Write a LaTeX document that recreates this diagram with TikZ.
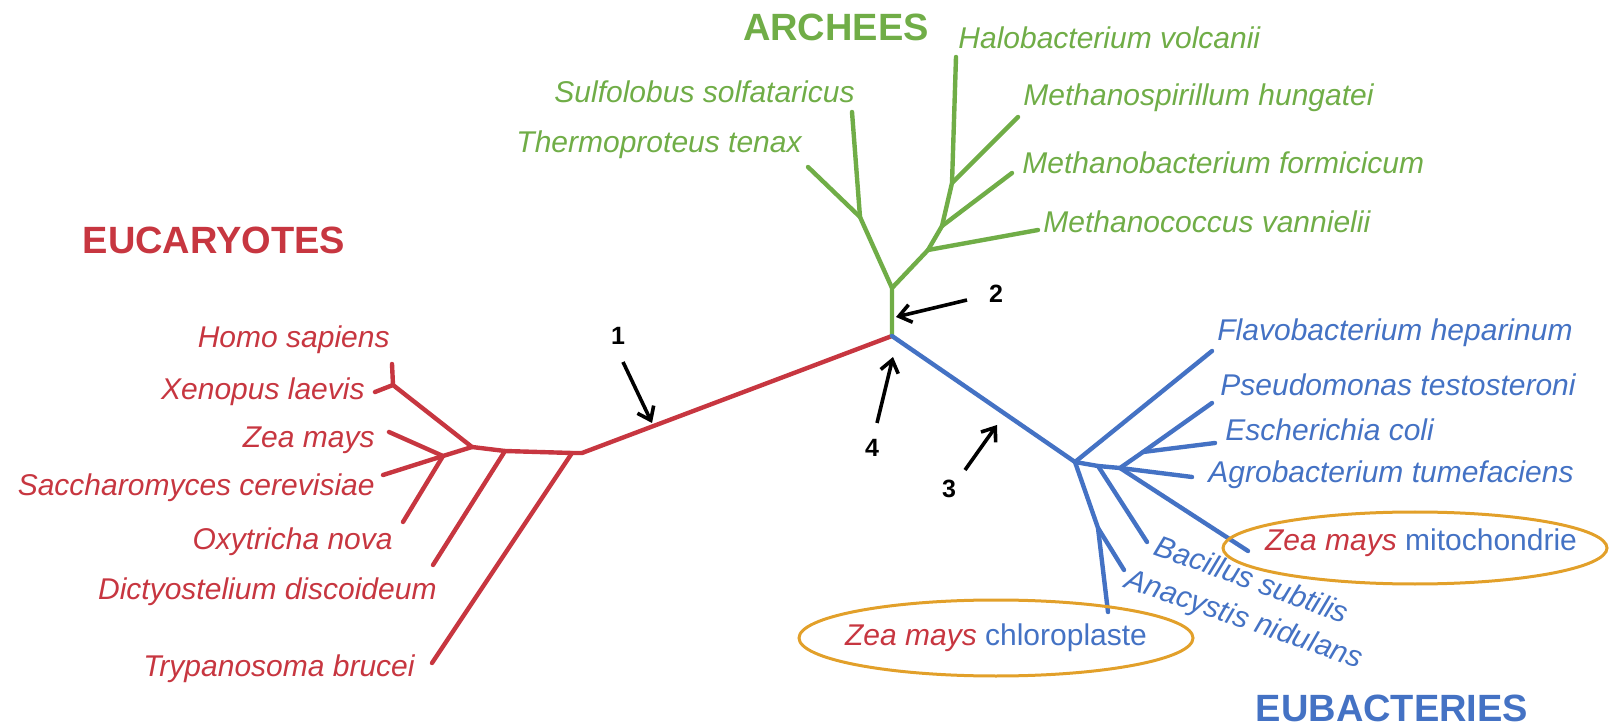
\documentclass[tikz,border=0pt]{standalone}
\usepackage{fontspec}
\setmainfont{Liberation Sans}
\usetikzlibrary{arrows.meta}

\definecolor{eured}{RGB}{199,54,64}
\definecolor{argreen}{RGB}{112,173,71}
\definecolor{ebblue}{RGB}{68,114,196}
\definecolor{ringgold}{RGB}{226,160,42}

\tikzset{
  branch/.style={line width=2.2pt, line cap=round, line join=round},
  sp/.style={inner sep=0pt, font=\fontsize{15}{18}\selectfont\itshape},
  spup/.style={inner sep=0pt, font=\fontsize{15}{18}\selectfont},
  grp/.style={inner sep=0pt, font=\fontsize{19}{22}\selectfont\bfseries},
  num/.style={inner sep=0pt, font=\fontsize{12.5}{15}\selectfont\bfseries},
  pointer/.style={line width=1.8pt, -{Straight Barb[length=6pt,width=9pt]}},
  ring/.style={draw=ringgold, line width=1.5pt}
}

\begin{document}
\begin{tikzpicture}[x=0.5pt, y=-0.5pt]
        \useasboundingbox (0,0) rectangle (1621,726);

        % ==========================================
        % ROOT
        % ==========================================
        \coordinate (root) at (892,336);

        % ==========================================
        % EUCARYOTES (red)
        % ==========================================
        \coordinate (ebend)  at (582,453);
        \coordinate (etry)   at (572,453);
        \coordinate (edic)   at (505,451);
        \coordinate (ecrown) at (472,447);
        \coordinate (ehx)    at (393,385);
        \coordinate (ezs)    at (443,456);
        \coordinate (thomo)  at (392,364);
        \coordinate (txeno)  at (375,392);
        \coordinate (tzea)   at (389,432);
        \coordinate (tsacc)  at (383,475);
        \coordinate (toxy)   at (403,522);
        \coordinate (tdic)   at (433,565);
        \coordinate (ttry)   at (432,663);

        \draw[branch, eured] (root) -- (ebend) -- (etry) -- (edic) -- (ecrown) -- (ehx) -- (thomo);
        \draw[branch, eured] (ehx) -- (txeno);
        \draw[branch, eured] (ecrown) -- (ezs) -- (tzea);
        \draw[branch, eured] (ezs) -- (tsacc);
        \draw[branch, eured] (ezs) -- (toxy);
        \draw[branch, eured] (edic) -- (tdic);
        \draw[branch, eured] (etry) -- (ttry);

        \node[grp, eured] (eucar) at (214,240) {EUCARYOTES};
        \node[sp, eured, anchor=east] (homo)  at (390,340) {Homo sapiens};
        \node[sp, eured, anchor=east] (xeno)  at (365,392) {Xenopus laevis};
        \node[sp, eured, anchor=east] (zea)   at (375,440) {Zea mays};
        \node[sp, eured, anchor=east] (sacc)  at (375,488) {Saccharomyces cerevisiae};
        \node[sp, eured, anchor=east] (oxy)   at (393,542) {Oxytricha nova};
        \node[sp, eured, anchor=east] (dic)   at (437,592) {Dictyostelium discoideum};
        \node[sp, eured, anchor=east] (try)   at (415,669) {Trypanosoma brucei};

        % ==========================================
        % ARCHEES (green)
        % ==========================================
        \coordinate (ga) at (892,288);
        \coordinate (gb) at (860,217);
        \coordinate (gc) at (928,250);
        \coordinate (gd) at (942,226);
        \coordinate (ge) at (952,183);
        \coordinate (tthermo) at (808,167);
        \coordinate (tsulfo)  at (852,112);
        \coordinate (thalo)   at (956,57);
        \coordinate (tspir)   at (1018,117);
        \coordinate (tmbac)   at (1012,173);
        \coordinate (tmcoc)   at (1038,230);

        \draw[branch, argreen] (root) -- (ga) -- (gb) -- (tthermo);
        \draw[branch, argreen] (gb) -- (tsulfo);
        \draw[branch, argreen] (ga) -- (gc) -- (gd) -- (ge) -- (thalo);
        \draw[branch, argreen] (gc) -- (tmcoc);
        \draw[branch, argreen] (gd) -- (tmbac);
        \draw[branch, argreen] (ge) -- (tspir);

        \node[grp, argreen] (arch) at (836,27) {ARCHEES};
        \node[sp, argreen, anchor=east] (sulfo)  at (855,92)  {Sulfolobus solfataricus};
        \node[sp, argreen, anchor=east] (thermo) at (802,145) {Thermoproteus tenax};
        \node[sp, argreen, anchor=west] (halo)   at (958,38)  {Halobacterium volcanii};
        \node[sp, argreen, anchor=west] (spir)   at (1023,98) {Methanospirillum hungatei};
        \node[sp, argreen, anchor=west] (mbac)   at (1022,163) {Methanobacterium formicicum};
        \node[sp, argreen, anchor=west] (mcoc)   at (1043,222) {Methanococcus vannielii};

        % ==========================================
        % EUBACTERIES (blue)
        % ==========================================
        \coordinate (bf)   at (1075,462);
        \coordinate (bbac) at (1098,466);
        \coordinate (bg)   at (1120,468);
        \coordinate (besc) at (1143,452);
        \coordinate (bh)   at (1098,528);
        \coordinate (tflavo)  at (1212,351);
        \coordinate (tpseu)   at (1212,403);
        \coordinate (tesch)   at (1215,443);
        \coordinate (tagro)   at (1192,477);
        \coordinate (tmito)   at (1248,551);
        \coordinate (tbacil)  at (1147,542);
        \coordinate (tanac)   at (1124,570);
        \coordinate (tchloro) at (1108,612);

        \draw[branch, ebblue] (root) -- (bf) -- (bbac) -- (bg) -- (besc) -- (tpseu);
        \draw[branch, ebblue] (bf) -- (tflavo);
        \draw[branch, ebblue] (besc) -- (tesch);
        \draw[branch, ebblue] (bg) -- (tagro);
        \draw[branch, ebblue] (bg) -- (tmito);
        \draw[branch, ebblue] (bbac) -- (tbacil);
        \draw[branch, ebblue] (bf) -- (bh) -- (tchloro);
        \draw[branch, ebblue] (bh) -- (tanac);

        \node[grp, ebblue] (eubac) at (1392,708) {EUBACTERIES};
        \node[sp, ebblue, anchor=west] (flavo) at (1217,333) {Flavobacterium heparinum};
        \node[sp, ebblue, anchor=west] (pseu)  at (1220,385) {Pseudomonas testosteroni};
        \node[sp, ebblue, anchor=west] (esch)  at (1225,430) {Escherichia coli};
        \node[sp, ebblue, anchor=west] (agro)  at (1208,475) {Agrobacterium tumefaciens};
        \node[sp, ebblue, anchor=west, rotate=-20] (bacil) at (1156,544) {Bacillus subtilis};
        \node[sp, ebblue, anchor=west, rotate=-19] (anac)  at (1126,580) {Anacystis nidulans};
        \node[spup, ebblue] (mito)   at (1421,543) {\textcolor{eured}{\itshape Zea mays} mitochondrie};
        \node[spup, ebblue] (chloro) at (996,638) {\textcolor{eured}{\itshape Zea mays} chloroplaste};

        % circled organelles
        \draw[ring] ([shift={(-6,5)}]mito.center) ellipse [x radius=192, y radius=36];
        \draw[ring] (chloro.center) ellipse [x radius=197, y radius=38];

        % ==========================================
        % NUMBERED POINTERS
        % ==========================================
        \node[num] (n1) at (618,336) {1};
        \node[num] (n2) at (996,294) {2};
        \node[num] (n3) at (949,489) {3};
        \node[num] (n4) at (872,448) {4};

        \coordinate (a1s) at (623,362); \coordinate (a1e) at (652,423);
        \coordinate (a2s) at (967,300); \coordinate (a2e) at (896,317);
        \coordinate (a3s) at (965,470); \coordinate (a3e) at (997,425);
        \coordinate (a4s) at (877,423); \coordinate (a4e) at (893,357);

        \draw[pointer] (a1s) -- (a1e);
        \draw[pointer] (a2s) -- (a2e);
        \draw[pointer] (a3s) -- (a3e);
        \draw[pointer] (a4s) -- (a4e);

\end{tikzpicture}
\end{document}
